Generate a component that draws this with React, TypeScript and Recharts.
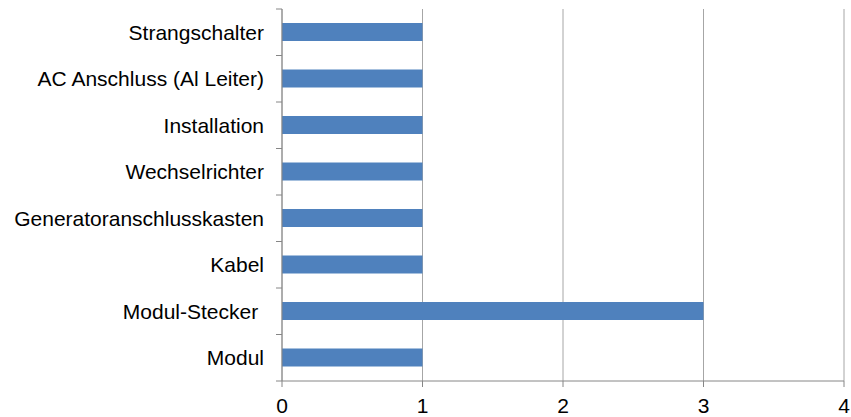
import React from 'react';
import { BarChart, Bar, XAxis, YAxis, CartesianGrid } from 'recharts';

const categories = [
  'Strangschalter',
  'AC Anschluss (Al Leiter)',
  'Installation',
  'Wechselrichter',
  'Generatoranschlusskasten',
  'Kabel',
  'Modul-Stecker ',
  'Modul',
];
const counts = [1, 1, 1, 1, 1, 1, 3, 1];
const xTicks = [0, 1, 2, 3, 4];

const data = categories.map((name, i) => ({ name, value: counts[i] }));

const FONT = '"Liberation Sans", Arial, sans-serif';
const AXIS = '#868686';

// category ticks sit between the bands, labels in the middle
const CategoryTick = (props: any) => {
  const { x, y, payload, index } = props;
  const half = payload?.offset ?? 23.2;
  const axisX = x + 18;
  return (
    <g>
      <line x1={axisX - 6} x2={axisX} y1={y - half} y2={y - half} stroke={AXIS} />
      {index === categories.length - 1 && (
        <line x1={axisX - 6} x2={axisX} y1={y + half} y2={y + half} stroke={AXIS} />
      )}
      <text
        x={x}
        y={y}
        dy="0.355em"
        textAnchor="end"
        fill="#000"
        fontSize={21}
        fontFamily={FONT}
        style={{ whiteSpace: 'pre' }}
      >
        {payload.value}
      </text>
    </g>
  );
};

const App: React.FC = () => {
  return (
    <div style={{ position: 'absolute', left: 0, top: 0, width: 851, height: 417, background: '#fff' }}>
      <BarChart
        width={851}
        height={417}
        data={data}
        layout="vertical"
        margin={{ top: 9, right: 7, left: 0, bottom: 0 }}
      >
        <CartesianGrid horizontal={false} stroke="#a6a6a6" />
        <XAxis
          type="number"
          domain={[0, 4]}
          ticks={xTicks}
          height={36}
          tickSize={6}
          tickMargin={11}
          axisLine={{ stroke: AXIS }}
          tickLine={{ stroke: AXIS }}
          tick={{ fill: '#000', fontSize: 21, fontFamily: FONT }}
        />
        <YAxis
          type="category"
          dataKey="name"
          width={282}
          tickSize={6}
          tickMargin={12}
          tickLine={false}
          axisLine={{ stroke: AXIS }}
          tick={<CategoryTick />}
          interval={0}
        />
        <Bar dataKey="value" fill="#4f81bd" barSize={18} isAnimationActive={false} />
      </BarChart>
    </div>
  );
};

export default App;
